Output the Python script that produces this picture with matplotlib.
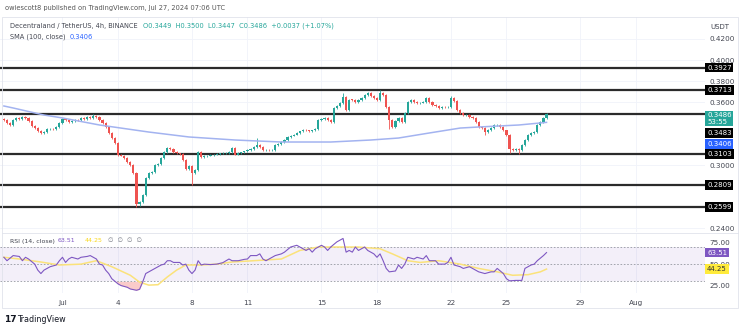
import numpy as np
import matplotlib
matplotlib.use('Agg')
import matplotlib.pyplot as plt
from matplotlib.patches import Rectangle

W, H = 745, 331

# 4h closes, Jun 27 20:00 -> Jul 27 04:00
closes = [
    0.3429, 0.3400, 0.3380, 0.3430, 0.3448, 0.3440, 0.3455, 0.3448, 0.3420, 0.3370,
    0.3350, 0.3325, 0.3305, 0.3315, 0.3340, 0.3345, 0.3340, 0.3360, 0.3400, 0.3440,
    0.3430, 0.3410, 0.3420, 0.3430, 0.3425, 0.3448, 0.3440, 0.3457, 0.3450, 0.3467,
    0.3460, 0.3430, 0.3400, 0.3362, 0.3305, 0.3260, 0.3210, 0.3095, 0.3090, 0.3067,
    0.3030, 0.3000, 0.2924, 0.2630, 0.2648, 0.2714, 0.2876, 0.2924, 0.2933, 0.3000,
    0.3010, 0.3067, 0.3124, 0.3162, 0.3150, 0.3124, 0.3110, 0.3105, 0.3048, 0.2960,
    0.2990, 0.2924, 0.2950, 0.3124, 0.3076, 0.3085, 0.3090, 0.3095, 0.3100, 0.3105,
    0.3110, 0.3114, 0.3114, 0.3125, 0.3160, 0.3100, 0.3114, 0.3120, 0.3130, 0.3143,
    0.3150, 0.3171, 0.3190, 0.3171, 0.3143, 0.3143, 0.3140, 0.3145, 0.3190, 0.3200,
    0.3220, 0.3240, 0.3267, 0.3280, 0.3290, 0.3305, 0.3320, 0.3333, 0.3330, 0.3320,
    0.3330, 0.3340, 0.3429, 0.3440, 0.3448, 0.3430, 0.3410, 0.3543, 0.3560, 0.3590,
    0.3648, 0.3524, 0.3620, 0.3619, 0.3600, 0.3619, 0.3640, 0.3667, 0.3686, 0.3660,
    0.3640, 0.3620, 0.3690, 0.3667, 0.3552, 0.3430, 0.3362, 0.3420, 0.3448, 0.3410,
    0.3495, 0.3600, 0.3619, 0.3600, 0.3590, 0.3595, 0.3600, 0.3638, 0.3600, 0.3571,
    0.3560, 0.3543, 0.3552, 0.3550, 0.3552, 0.3638, 0.3610, 0.3524, 0.3495, 0.3476,
    0.3476, 0.3460, 0.3448, 0.3410, 0.3362, 0.3350, 0.3314, 0.3333, 0.3350, 0.3381,
    0.3385, 0.3362, 0.3330, 0.3286, 0.3150, 0.3145, 0.3150, 0.3140, 0.3190, 0.3238,
    0.3286, 0.3305, 0.3314, 0.3381, 0.3410, 0.3448, 0.3486,
]
first_open = 0.3440
wick_high = {29: 0.3483, 82: 0.3257, 110: 0.3690, 122: 0.3713, 145: 0.3660, 176: 0.3500}
wick_low = {43: 0.2599, 44: 0.2605, 61: 0.2810, 125: 0.3340, 156: 0.3290, 167: 0.3105, 164: 0.3110}

sma_idx = [0, 3, 13, 19, 31, 47, 60, 75, 90, 106, 119, 128, 138, 148, 154, 167, 176]
sma_val = [0.3562, 0.3543, 0.3476, 0.3448, 0.3381, 0.3314, 0.3267, 0.3238, 0.3219,
           0.3219, 0.3238, 0.3257, 0.3305, 0.3352, 0.3362, 0.3381, 0.3406]

rsi_idx = [0, 1, 3, 5, 6, 7, 8, 10, 11, 12, 13, 15, 17, 18, 19, 20, 21, 22, 24, 25,
           27, 28, 30, 31, 32, 33, 34, 35, 36, 37, 38, 40, 41, 43, 44, 45, 46, 48, 49, 51,
           52, 53, 54, 55, 57, 58, 59, 60, 61, 62, 63, 64, 65, 67, 69, 71, 73, 74, 76, 78,
           79, 80, 82, 83, 84, 85, 87, 88, 90, 91, 93, 95, 96, 98, 99, 100, 101, 103, 104, 105,
           106, 108, 110, 111, 112, 113, 114, 115, 117, 118, 120, 121, 122, 123, 124, 125, 127, 128, 129, 130,
           131, 133, 134, 136, 137, 138, 140, 141, 143, 144, 145, 146, 148, 149, 151, 153, 154, 156, 158, 159,
           160, 162, 163, 164, 166, 168, 169, 171, 172, 173, 175, 176]
rsi_val = [58, 54, 60, 59, 54, 58, 56, 50, 43, 39, 43, 47, 49, 54, 58, 52, 56, 58, 56, 58,
           59, 60, 56, 50, 49, 43, 39, 33, 30, 27, 25, 23, 21, 19.5, 20.6, 29, 39, 43, 45, 49,
           50, 54, 54, 52, 52, 49, 50, 43, 39, 43, 54, 49, 50, 49.5, 50, 51.7, 56, 54, 54, 55.6,
           56, 60, 60, 62, 56, 54, 58, 60, 62, 64, 70, 72, 70, 66, 68, 64, 68, 72, 70, 66,
           70, 76, 80, 64, 66, 64, 70, 66, 70, 66, 62, 58, 62, 54, 45, 41, 42, 49, 45, 50,
           58, 56, 58, 56, 60, 54, 54, 50, 50, 52, 58, 49, 47, 45, 47, 43, 41, 39, 41, 41,
           45, 39, 33, 30.5, 31, 31, 45, 49, 50, 54, 60, 63.51]
rsi_ma_idx = [0, 5, 12, 18, 25, 30, 35, 41, 44, 47, 50, 53, 56, 59, 64, 69, 74, 81, 90,
              96, 102, 109, 115, 122, 126, 131, 135, 141, 148, 154, 160, 165, 170, 174, 176]
rsi_ma_val = [58, 56, 52.5, 49, 50, 54, 47, 37, 29, 25.5, 26, 35, 43, 49, 49, 50, 52.5, 54, 56,
              66, 70, 70, 70, 68, 62, 54, 52, 54, 50, 45, 41, 37, 37.7, 41, 44.25]

levels = [0.3927, 0.3713, 0.3483, 0.3103, 0.2809, 0.2599]
price_ticks = [0.42, 0.40, 0.38, 0.36, 0.30, 0.24]
day_idx = [19, 37, 61, 79, 103, 121, 145, 163, 187, 205]
day_lbl = ['Jul', '4', '8', '11', '15', '18', '22', '25', '29', 'Aug']

UP, DOWN = '#26a69a', '#ef5350'
TXT = '#434651'


def fx(x):
    return x / W


def fy(y):
    return 1 - y / H


fig = plt.figure(figsize=(W / 100, H / 100), dpi=100)
fig.patch.set_facecolor('white')

# chart frame
fig.patches.append(Rectangle((fx(2), fy(308)), fx(736), (308 - 17) / H, transform=fig.transFigure,
                             fill=False, edgecolor='#e0e3eb', lw=0.6))

ax = fig.add_axes([fx(0), fy(232), fx(705), (232 - 17) / H])
ax.set_xlim(-1.265, 227.4)
ax.set_ylim(0.2362, 0.44095)
for s in ax.spines.values():
    s.set_visible(False)
ax.set_xticks(day_idx)
ax.set_xticklabels([])
ax.tick_params(axis='x', length=0)
ax.yaxis.tick_right()
ax.set_yticks(price_ticks)
ax.set_yticklabels(['%.4f' % p for p in price_ticks], fontsize=5.2, color=TXT)
ax.tick_params(axis='y', length=0, pad=3)
ax.grid(True, color='#f0f3fa', lw=0.6)
ax.set_axisbelow(True)

for lv in levels:
    ax.axhline(lv, color='#2b2b2b', lw=1.6, zorder=2)

idx = np.arange(len(closes))
c = np.array(closes)
o = np.concatenate([[first_open], c[:-1]])
hi = np.maximum(o, c) + 0.0008
lo = np.minimum(o, c) - 0.0008
for k, v in wick_high.items():
    hi[k] = v
for k, v in wick_low.items():
    lo[k] = v
col = np.where(c >= o, UP, DOWN)
ax.vlines(idx, lo, hi, colors=col, lw=0.6, zorder=3)
body = np.where(np.abs(c - o) < 0.0004, 0.0004, c - o)
ax.bar(idx, body, bottom=o, width=0.7, color=col, zorder=4)

ax.plot(sma_idx, sma_val, color='#a3b3f0', lw=1.1, zorder=5)

# right-side price tags
ty = ax.get_yaxis_transform()
tag = dict(fontsize=5.0, color='white', va='center', ha='left', family='DejaVu Sans')
for lv in levels:
    p = lv
    if lv == 0.3483:
        p = 0.3305
    ax.text(1.003, p, '%.4f' % lv, transform=ty, zorder=10,
            bbox=dict(boxstyle='square,pad=0.25', fc='black', ec='none'), **tag)
ax.text(1.003, 0.3443, '0.3486\n53:55', transform=ty, zorder=10, linespacing=1.1,
        bbox=dict(boxstyle='square,pad=0.25', fc=UP, ec='none'), **tag)
ax.text(1.003, 0.3200, '0.3406', transform=ty, zorder=10,
        bbox=dict(boxstyle='square,pad=0.25', fc='#2962ff', ec='none'), **tag)

# RSI pane
ax2 = fig.add_axes([fx(0), fy(293), fx(705), (293 - 234) / H])
ax2.set_xlim(-1.265, 227.4)
ax2.set_ylim(16.3, 85.2)
for s in ax2.spines.values():
    s.set_visible(False)
ax2.axhspan(30, 70, color='#7e57c2', alpha=0.09, lw=0)
for lvl in (70, 50, 30):
    ax2.axhline(lvl, color='#9598a1', lw=0.6, ls=(0, (2, 2)))
ax2.set_xticks(day_idx)
ax2.set_xticklabels(day_lbl, fontsize=5.2, color=TXT)
ax2.tick_params(axis='x', length=0, pad=5)
ax2.yaxis.tick_right()
ax2.set_yticks([75, 50, 25])
ax2.set_yticklabels(['75.00', '50.00', '25.00'], fontsize=5.2, color=TXT)
ax2.tick_params(axis='y', length=0, pad=3)
ax2.grid(True, axis='x', color='#f0f3fa', lw=0.6)
ax2.set_axisbelow(True)

rv = np.array(rsi_val, dtype=float)
ax2.fill_between(rsi_idx, rv, 30, where=rv < 30, interpolate=True, color='#ef5350', alpha=0.3, lw=0)
ax2.plot(rsi_ma_idx, rsi_ma_val, color='#fbe27a', lw=1.1)
ax2.plot(rsi_idx, rsi_val, color='#7e57c2', lw=0.8)

ty2 = ax2.get_yaxis_transform()
ax2.text(1.003, 63.51, '63.51', transform=ty2, zorder=10,
         bbox=dict(boxstyle='square,pad=0.25', fc='#7e57c2', ec='none'), **tag)
tag_y = dict(tag, color='#333333')
ax2.text(1.003, 44.25, '44.25', transform=ty2, zorder=10,
         bbox=dict(boxstyle='square,pad=0.25', fc='#ffeb3b', ec='none'), **tag_y)

# separator between panes
fig.add_artist(plt.Line2D([fx(2), fx(738)], [fy(233), fy(233)], color='#e0e3eb', lw=0.6))

# header texts
fig.text(fx(5), fy(8), 'owiescott8 published on TradingView.com, Jul 27, 2024 07:06 UTC',
         fontsize=4.8, color='#555555', va='center')
fig.text(fx(10), fy(26), 'Decentraland / TetherUS, 4h, BINANCE', fontsize=4.8, color=TXT, va='center')
fig.text(fx(143), fy(26), 'O0.3449  H0.3500  L0.3447  C0.3486  +0.0037 (+1.07%)',
         fontsize=4.8, color=UP, va='center')
fig.text(fx(10), fy(37), 'SMA (100, close)', fontsize=4.8, color=TXT, va='center')
fig.text(fx(70), fy(37), '0.3406', fontsize=4.8, color='#2962ff', va='center')
fig.text(fx(720), fy(27), 'USDT', fontsize=5.0, color=TXT, va='center', ha='center')

fig.text(fx(10), fy(241), 'RSI (14, close)', fontsize=4.5, color=TXT, va='center')
fig.text(fx(58), fy(241), '63.51', fontsize=4.5, color='#7e57c2', va='center')
fig.text(fx(85), fy(241), '44.25', fontsize=4.5, color='#f9d71c', va='center')
fig.text(fx(108), fy(241), '\u2205  \u2205  \u2205  \u2205', fontsize=4.5, color='#787b86', va='center')

fig.text(fx(4), fy(320), '17', fontsize=6.5, color='#131722', va='center', weight='bold')
fig.text(fx(17), fy(320), 'TradingView', fontsize=5.8, color='#131722', va='center')

fig.savefig('out.png', dpi=100)
